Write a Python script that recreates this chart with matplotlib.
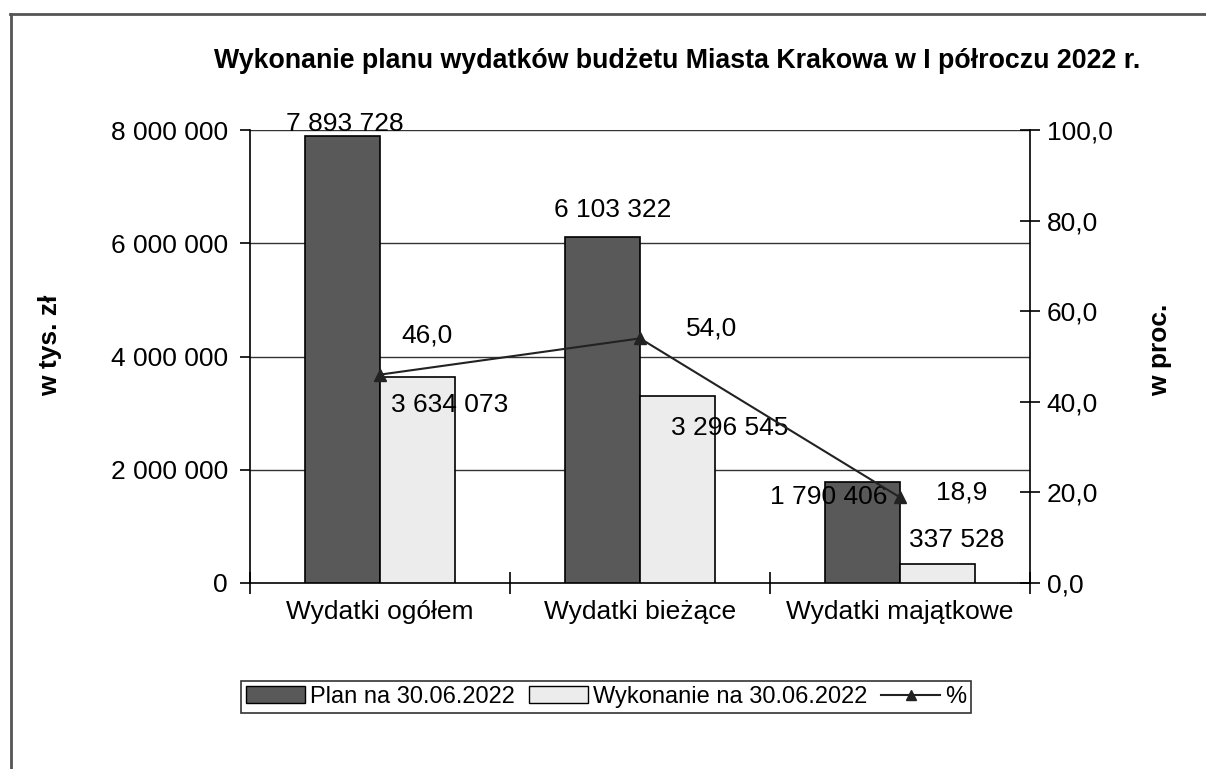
import matplotlib
matplotlib.use("Agg")
import matplotlib.pyplot as plt
from matplotlib.lines import Line2D
from matplotlib.patches import Patch
import numpy as np

plt.rcParams['font.family'] = ['Liberation Sans', 'DejaVu Sans']

categories = ["Wydatki ogółem", "Wydatki bieżące", "Wydatki majątkowe"]
plan = [7893728, 6103322, 1790406]
wykonanie = [3634073, 3296545, 337528]
percent = [46.0, 54.0, 18.9]
plan_labels = ["7 893 728", "6 103 322", "1 790 406"]
wyk_labels = ["3 634 073", "3 296 545", "337 528"]
pct_labels = ["46,0", "54,0", "18,9"]
left_ticks = [0, 2000000, 4000000, 6000000, 8000000]
left_ticklabels = ["0", "2 000 000", "4 000 000", "6 000 000", "8 000 000"]
right_ticks = [0, 20, 40, 60, 80, 100]
right_ticklabels = ["0,0", "20,0", "40,0", "60,0", "80,0", "100,0"]
title = "Wykonanie planu wydatków budżetu Miasta Krakowa w I półroczu 2022 r."

W, H = 1206, 769
fig = plt.figure(figsize=(W / 100, H / 100), dpi=100)
ax = fig.add_axes([250 / W, 1 - 583 / H, (1030 - 250) / W, (583 - 130) / H])

x = np.arange(len(categories))
bw = 0.29
plan_col = "#595959"
wyk_col = "#ececec"

ax.bar(x - bw, plan, width=bw, align='edge', color=plan_col, edgecolor='black', linewidth=1.2, zorder=3)
ax.bar(x, wykonanie, width=bw, align='edge', color=wyk_col, edgecolor='black', linewidth=1.2, zorder=3)

ax.set_xlim(-0.5, 2.5)
ax.set_ylim(0, 8000000)
ax.set_yticks(left_ticks)
ax.set_yticklabels(left_ticklabels, fontsize=19)
ax.set_xticks(x)
ax.set_xticklabels(categories, fontsize=19)
ax.set_xticks([-0.5, 0.5, 1.5, 2.5], minor=True)
ax.tick_params(axis='x', which='major', length=0, pad=12)
ax.tick_params(axis='x', which='minor', direction='inout', length=16, width=1.2)
ax.tick_params(axis='y', direction='out', length=7, width=1.2, pad=9)
for yv in left_ticks[1:]:
    ax.axhline(yv, color='#333333', linewidth=1.0, zorder=1)
ax.spines['top'].set_visible(False)
ax.spines['right'].set_visible(False)
for s in ['left', 'bottom']:
    ax.spines[s].set_linewidth(1.2)

ax2 = ax.twinx()
ax2.set_ylim(0, 100)
ax2.set_yticks(right_ticks)
ax2.set_yticklabels(right_ticklabels, fontsize=19)
ax2.tick_params(axis='y', direction='inout', length=14, width=1.2, pad=5)
ax2.spines['top'].set_visible(False)
ax2.spines['left'].set_visible(False)
ax2.spines['bottom'].set_visible(False)
ax2.spines['right'].set_linewidth(1.2)
ax2.plot(x, percent, color='#222222', linewidth=1.5, marker='^', markersize=8, zorder=5)

# data labels
plan_off = [(3, 12), (10, 27), (-34, -15)]
wyk_off = [(32, -28), (52, -32), (19, 24)]
pct_off = [(47, 39), (72, 10), (62, 5)]
for i in range(len(categories)):
    ax.annotate(plan_labels[i], xy=(x[i] - bw / 2, plan[i]), xytext=plan_off[i],
                textcoords='offset pixels', ha='center', va='center', fontsize=19, zorder=6)
    ax.annotate(wyk_labels[i], xy=(x[i] + bw / 2, wykonanie[i]), xytext=wyk_off[i],
                textcoords='offset pixels', ha='center', va='center', fontsize=19, zorder=6)
    ax2.annotate(pct_labels[i], xy=(x[i], percent[i]), xytext=pct_off[i],
                 textcoords='offset pixels', ha='center', va='center', fontsize=19, zorder=6)

fig.text(677 / W, 1 - 61 / H, title, ha='center', va='center', fontsize=19.3, fontweight='bold')
fig.text(50 / W, 1 - 345 / H, "w tys. zł", ha='center', va='center', rotation=90, fontsize=19, fontweight='bold')
fig.text(1160 / W, 1 - 350 / H, "w proc.", ha='center', va='center', rotation=90, fontsize=19, fontweight='bold')

handles = [Patch(facecolor=plan_col, edgecolor='black'),
           Patch(facecolor=wyk_col, edgecolor='black'),
           Line2D([], [], color='#222222', marker='^', markersize=7, linewidth=1.5)]
leg = fig.legend(handles, ["Plan na 30.06.2022", "Wykonanie na 30.06.2022", "%"],
                 loc='center', bbox_to_anchor=(606 / W, 1 - 697 / H), ncol=3, fontsize=17,
                 frameon=True, fancybox=False, edgecolor='black', handlelength=2.5,
                 handletextpad=0.2, columnspacing=0.6, borderpad=0.2, borderaxespad=0)
leg.get_frame().set_linewidth(1.2)

# outer frame (top and left edges)
fig.add_artist(Line2D([10 / W, 1.0], [1 - 14 / H, 1 - 14 / H], transform=fig.transFigure, color='#555555', linewidth=2))
fig.add_artist(Line2D([11 / W, 11 / W], [0, 1 - 14 / H], transform=fig.transFigure, color='#555555', linewidth=2))

fig.savefig("out.png", dpi=100)
